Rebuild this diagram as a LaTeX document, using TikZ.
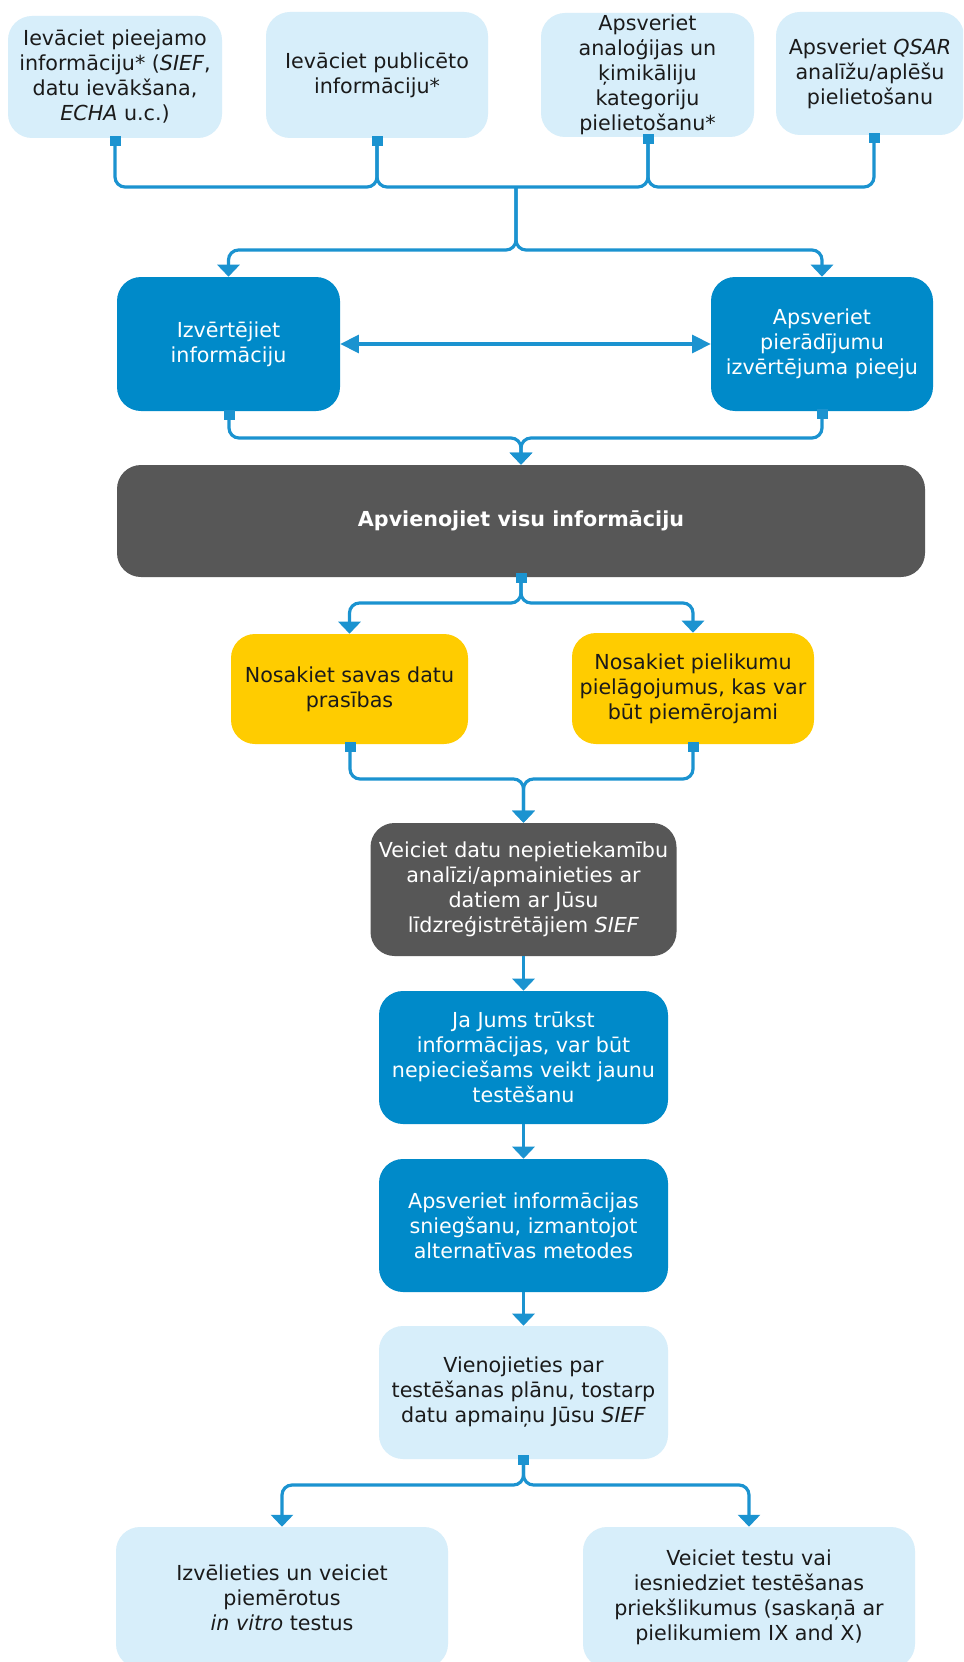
\documentclass[tikz,border=0pt]{standalone}
\usepackage{fontspec}
\setmainfont{DejaVu Sans}
\usetikzlibrary{arrows.meta}
\definecolor{lineblue}{HTML}{1B93D0}
\definecolor{boxblue}{HTML}{008AC9}
\definecolor{lightbox}{HTML}{D7EEFA}
\definecolor{darkbox}{HTML}{575757}
\definecolor{yellowbox}{HTML}{FFCC00}
\definecolor{txt}{HTML}{1A1A1A}
\begin{document}
\begin{tikzpicture}[x=0.75pt,y=-0.75pt,
  box/.style={rectangle, rounded corners=18pt, inner sep=0pt, align=center,
    font=\fontsize{15.5}{18.75}\selectfont},
  lbox/.style={box, fill=lightbox, text=txt},
  bbox/.style={box, fill=boxblue, text=white},
  dbox/.style={box, fill=darkbox, text=white},
  ybox/.style={box, fill=yellowbox, text=txt},
  sq/.style={rectangle, fill=lineblue, inner sep=0pt, minimum width=8.25pt, minimum height=8pt},
  conn/.style={draw=lineblue, line width=2.4pt, rounded corners=7.5pt},
  arr/.style={conn, -{Triangle[width=16.5pt,length=9pt]}},
  dbl/.style={draw=lineblue, line width=2.4pt,
    {Triangle[width=13.5pt,length=14pt]}-{Triangle[width=13.5pt,length=14pt]}},
]
\useasboundingbox (0,0) rectangle (963,1662);
\fill[white] (0,0) rectangle (963,1662);
\clip (0,0) rectangle (963,1662);

% boxes
\node[lbox, minimum width=160.5pt, minimum height=91.5pt] (b1) at (115,77)
  {Ievāciet pieejamo\\informāciju* (\textit{SIEF},\\datu ievākšana,\\\textit{ECHA} u.c.)};
\node[lbox, minimum width=166.5pt, minimum height=94.5pt] (b2) at (377,75)
  {Ievāciet publicēto\\informāciju*};
\node[lbox, minimum width=159.75pt, minimum height=93pt] (b3) at (647.5,75)
  {Apsveriet\\analoģijas un\\ķimikāliju\\kategoriju\\pielietošanu*};
\node[lbox, minimum width=141pt, minimum height=92.25pt] (b4) at (870,73.5)
  {Apsveriet \textit{QSAR}\\analīžu/aplēšu\\pielietošanu};
\node[bbox, minimum width=167.25pt, minimum height=100.5pt] (b5) at (228.5,344)
  {Izvērtējiet\\informāciju};
\node[bbox, minimum width=166.5pt, minimum height=100.5pt] (b6) at (822,344)
  {Apsveriet\\pierādījumu\\izvērtējuma pieeju};
\node[dbox, minimum width=606pt, minimum height=84pt] (b7) at (521,521)
  {\textbf{Apvienojiet visu informāciju}};
\node[ybox, minimum width=177.75pt, minimum height=82.5pt] (b8) at (349.5,689)
  {Nosakiet savas datu\\prasības};
\node[ybox, minimum width=181.5pt, minimum height=83.25pt] (b9) at (693,688.5)
  {Nosakiet pielikumu\\pielāgojumus, kas var\\būt piemērojami};
\node[dbox, minimum width=229.5pt, minimum height=99.75pt] (b10) at (523.5,889.5)
  {Veiciet datu nepietiekamību\\analīzi/apmainieties ar\\datiem ar Jūsu\\līdzreģistrētājiem \textit{SIEF}};
\node[bbox, minimum width=216.75pt, minimum height=99.75pt] (b11) at (523.5,1057.5)
  {Ja Jums trūkst\\informācijas, var būt\\nepieciešams veikt jaunu\\testēšanu};
\node[bbox, minimum width=216.75pt, minimum height=99.75pt] (b12) at (523.5,1225.5)
  {Apsveriet informācijas\\sniegšanu, izmantojot\\alternatīvas metodes};
\node[lbox, minimum width=216.75pt, minimum height=99.75pt] (b13) at (523.5,1392.5)
  {Vienojieties par\\testēšanas plānu, tostarp\\datu apmaiņu Jūsu \textit{SIEF}};
\node[lbox, minimum width=249pt, minimum height=105.75pt] (b14) at (282,1597.5)
  {Izvēlieties un veiciet\\piemērotus\\\textit{in vitro} testus};
\node[lbox, minimum width=249pt, minimum height=105.75pt] (b15) at (749,1597.5)
  {Veiciet testu vai\\iesniedziet testēšanas\\priekšlikumus (saskaņā ar\\pielikumiem IX and X)};

% square connector ends
\node[sq] (s1) at (115,141) {};
\node[sq] (s2) at (377,141) {};
\node[sq] (s3) at (648,139) {};
\node[sq] (s4) at (874,138) {};
\node[sq] (s5) at (229,415) {};
\node[sq] (s6) at (822,414) {};
\node[sq] (s7) at (521,578) {};
\node[sq] (s8) at (350,747) {};
\node[sq] (s9) at (693,747) {};
\node[sq] (s13) at (523.5,1460) {};

% junction coordinates
\coordinate (jt) at (516,187);
\coordinate (jb) at (516,250);
\coordinate (jm) at (521,438);
\coordinate (jd) at (521,603);
\coordinate (jy) at (523.5,779);
\coordinate (jl) at (523.5,1485);

% connectors
\draw[conn] (s1.center) |- (s2 |- jt) -- (s2.center);
\draw[conn] (s3.center) |- (s2 |- jt) -- (s2.center);
\draw[conn] (s4.center) |- (s3 |- jt) -- (s3.center);
\draw[arr] (jt) -- (jb) -| (b5.north);
\draw[arr] (jt) -- (jb) -| (b6.north);
\draw[dbl] (b5.east) -- (b6.west);
\draw[arr] (s5.center) |- (jm) -- (b7.north);
\draw[arr] (s6.center) |- (jm) -- (b7.north);
\draw[arr] (s7.center) -- (jd) -| (b8.north);
\draw[arr] (s7.center) -- (jd) -| (b9.north);
\draw[arr] (s8.center) |- (jy) -- (b10.north);
\draw[arr] (s9.center) |- (jy) -- (b10.north);
\draw[arr] (b10.south) -- (b11.north);
\draw[arr] (b11.south) -- (b12.north);
\draw[arr] (b12.south) -- (b13.north);
\draw[arr] (s13.center) -- (jl) -| (b14.north);
\draw[arr] (s13.center) -- (jl) -| (b15.north);
\end{tikzpicture}
\end{document}
